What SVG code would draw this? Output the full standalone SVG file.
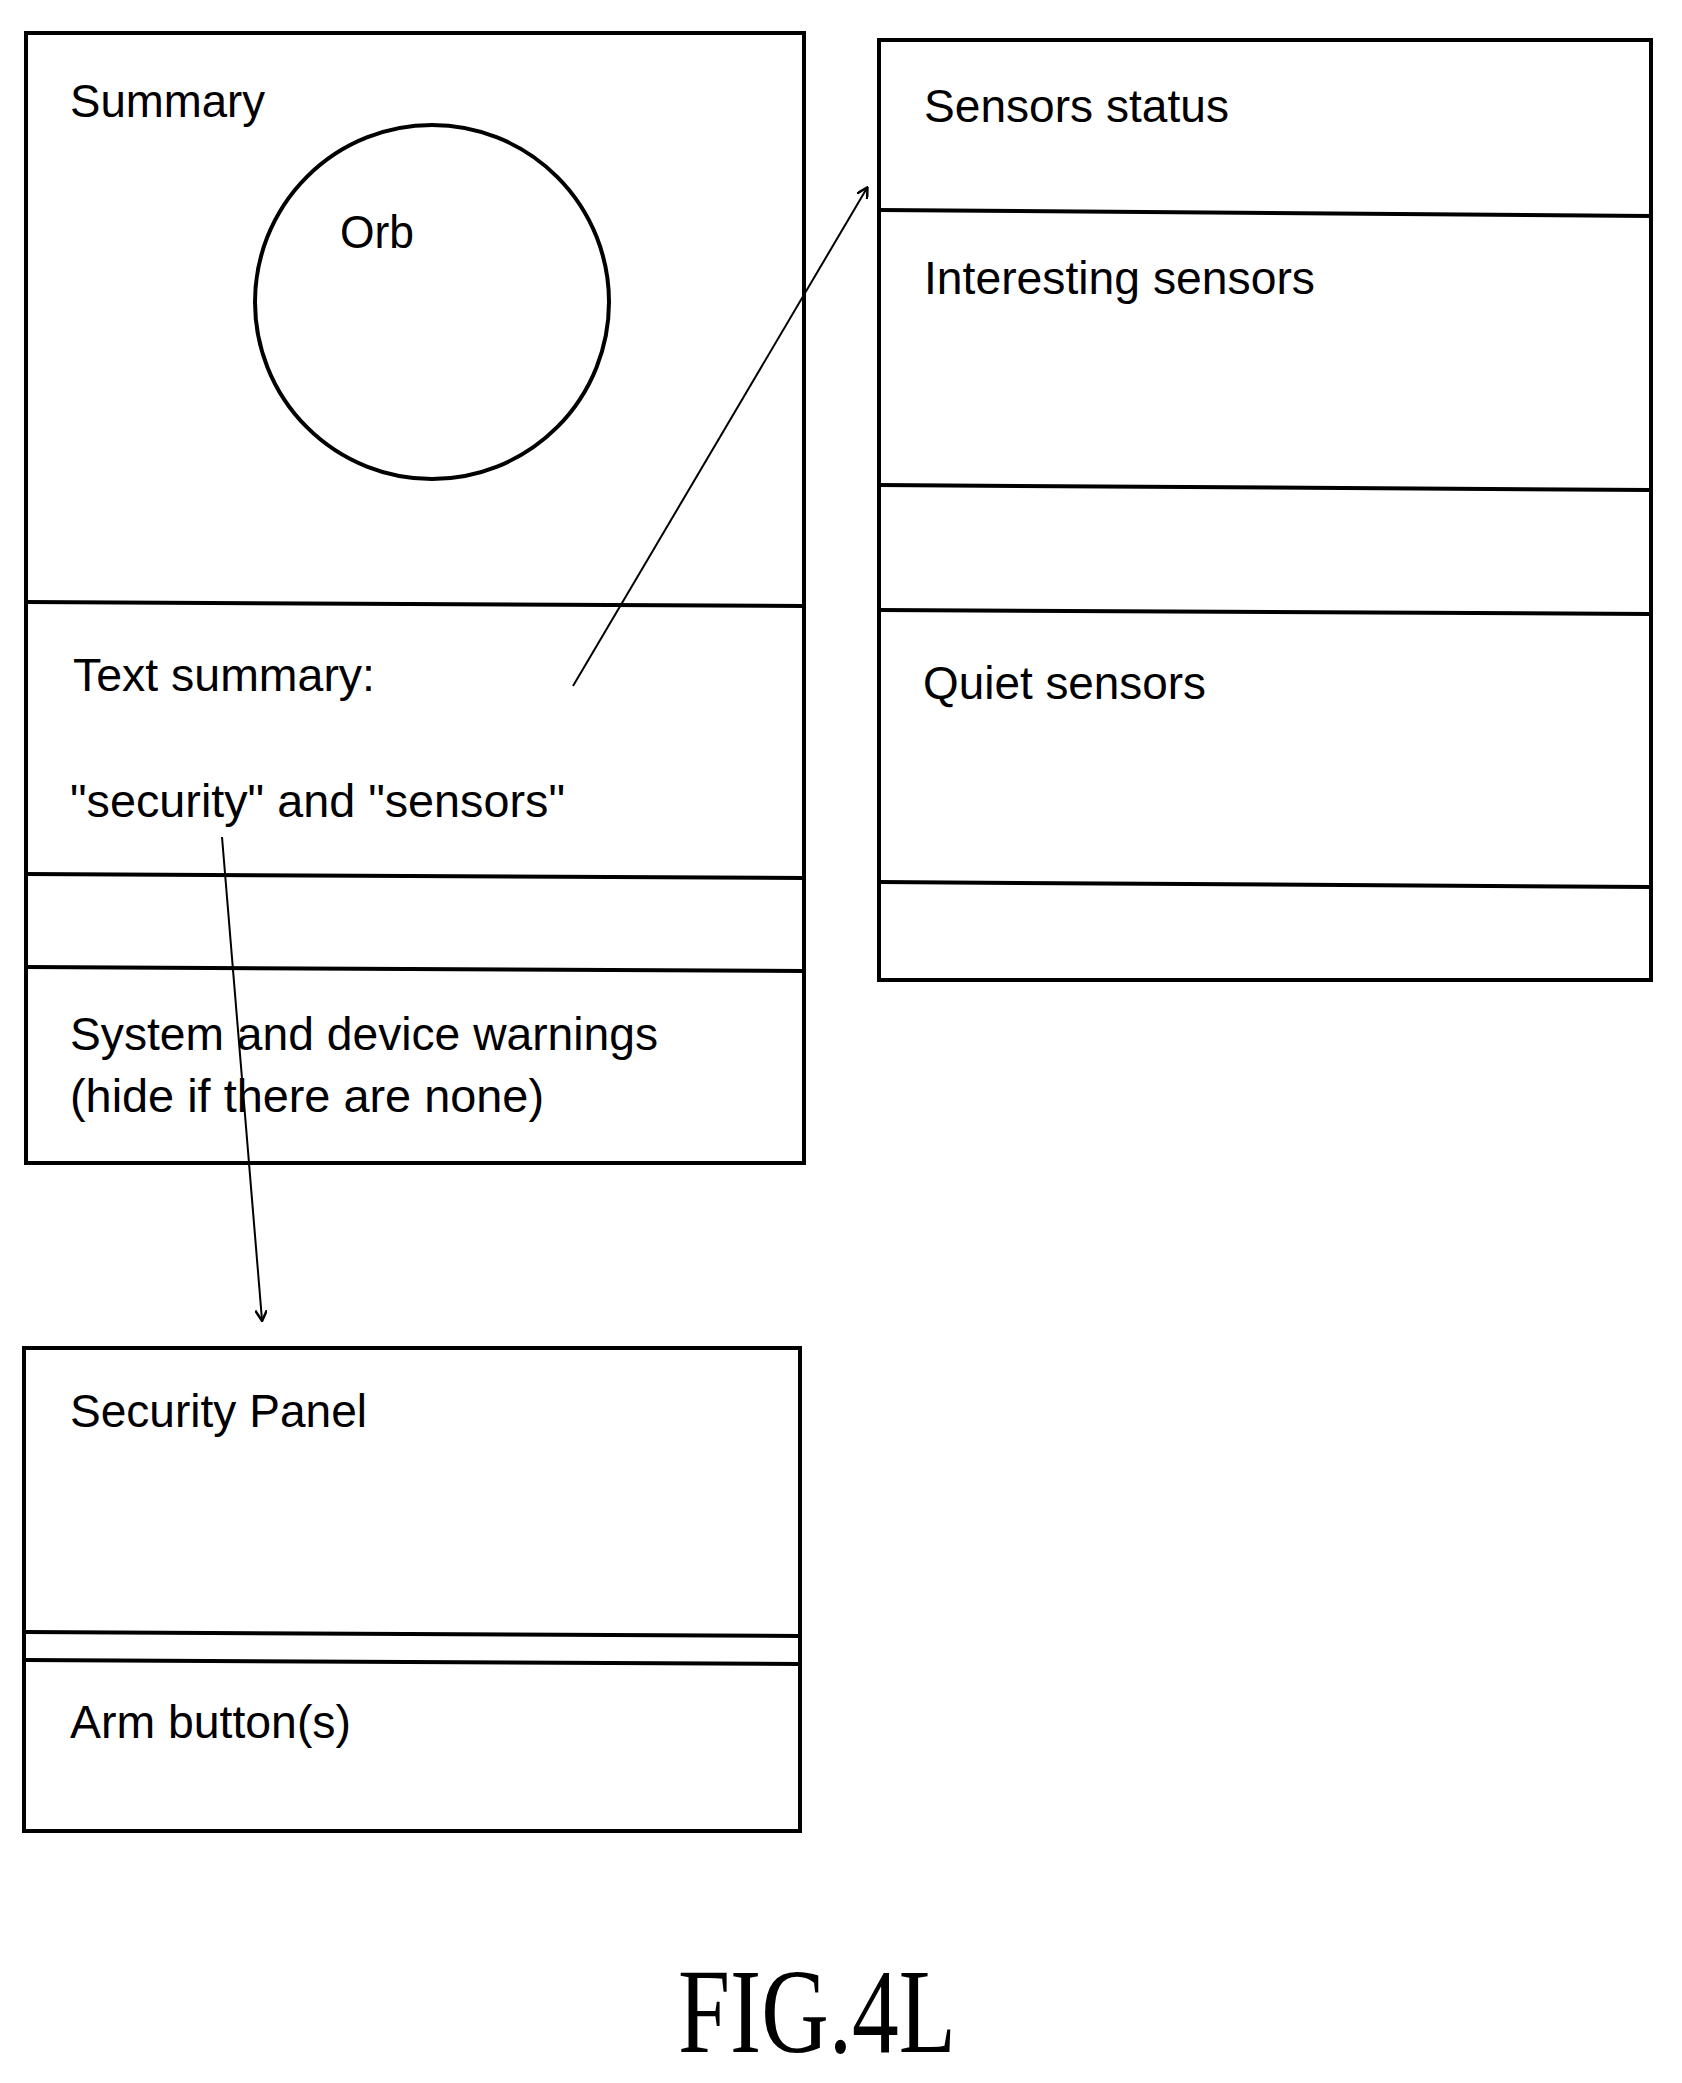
<svg xmlns="http://www.w3.org/2000/svg" width="1682" height="2083" viewBox="0 0 1682 2083">
<style>
.b{fill:none;stroke:#000;stroke-width:4}
.t{font-family:"Liberation Sans",Arial,sans-serif;font-size:46px;fill:#000}
.c{stroke:#000;stroke-width:2;fill:none}
</style>
<defs><marker id="a" markerWidth="12" markerHeight="12" refX="10" refY="6" orient="auto" markerUnits="userSpaceOnUse"><path d="M0,0 L11,6 L0,12" fill="none" stroke="#000" stroke-width="2.5"/></marker></defs>
<rect width="1682" height="2083" fill="#fff"/>
<g id="summary">
<rect class="b" x="26" y="33" width="778" height="1130"/>
<line class="b" x1="26" y1="602" x2="804" y2="606"/>
<line class="b" x1="26" y1="874" x2="804" y2="878"/>
<line class="b" x1="26" y1="967" x2="804" y2="971"/>
<circle class="b" cx="432" cy="302" r="177"/>
<text class="t" x="70" y="117" textLength="195" lengthAdjust="spacingAndGlyphs">Summary</text>
<text class="t" x="340" y="248" textLength="74" lengthAdjust="spacingAndGlyphs">Orb</text>
<text class="t" x="73" y="691" textLength="302" lengthAdjust="spacingAndGlyphs">Text summary:</text>
<text class="t" x="70" y="817" textLength="495" lengthAdjust="spacingAndGlyphs">"security" and "sensors"</text>
<text class="t" x="70" y="1050" textLength="588" lengthAdjust="spacingAndGlyphs">System and device warnings</text>
<text class="t" x="70" y="1112" textLength="474" lengthAdjust="spacingAndGlyphs">(hide if there are none)</text>
</g>
<g id="sensors">
<rect class="b" x="879" y="40" width="772" height="940"/>
<line class="b" x1="879" y1="210" x2="1651" y2="216"/>
<line class="b" x1="879" y1="485" x2="1651" y2="490"/>
<line class="b" x1="879" y1="610" x2="1651" y2="614"/>
<line class="b" x1="879" y1="882" x2="1651" y2="887"/>
<text class="t" x="924" y="122" textLength="305" lengthAdjust="spacingAndGlyphs">Sensors status</text>
<text class="t" x="924" y="294" textLength="391" lengthAdjust="spacingAndGlyphs">Interesting sensors</text>
<text class="t" x="923" y="699" textLength="283" lengthAdjust="spacingAndGlyphs">Quiet sensors</text>
</g>
<g id="security">
<rect class="b" x="24" y="1348" width="776" height="483"/>
<line class="b" x1="24" y1="1632" x2="800" y2="1636"/>
<line class="b" x1="24" y1="1660" x2="800" y2="1664"/>
<text class="t" x="70" y="1427" textLength="297" lengthAdjust="spacingAndGlyphs">Security Panel</text>
<text class="t" x="70" y="1738" textLength="281" lengthAdjust="spacingAndGlyphs">Arm button(s)</text>
</g>
<g id="connectors">
<line class="c" x1="573" y1="686" x2="867" y2="188" marker-end="url(#a)"/>
<line class="c" x1="222" y1="837" x2="262" y2="1320" marker-end="url(#a)"/>
</g>
<text x="678" y="2052" font-family="Liberation Serif,serif" font-size="120" textLength="278" lengthAdjust="spacingAndGlyphs">FIG.4L</text>
</svg>
